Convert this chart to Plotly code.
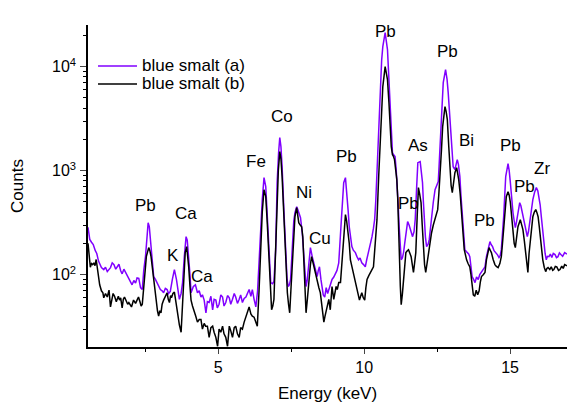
import math
import plotly.graph_objects as go

# ---------------- data ----------------
energy_a = [0.54, 0.60, 0.66, 0.72, 0.79, 0.84, 0.90, 1.00, 1.08, 1.14, 1.20, 1.25, 1.31, 1.37, 1.43, 1.49,
            1.54, 1.60, 1.66, 1.71, 1.77, 1.83, 1.89, 1.94, 2.00, 2.05, 2.11, 2.17, 2.22, 2.28, 2.34, 2.40,
            2.45, 2.51, 2.57, 2.60, 2.64, 2.68, 2.74, 2.79, 2.85, 2.91, 2.97, 3.02, 3.08, 3.13, 3.19, 3.25,
            3.30, 3.36, 3.43, 3.50, 3.57, 3.62, 3.67, 3.73, 3.78, 3.84, 3.90, 3.94, 3.99, 4.04, 4.07, 4.11,
            4.15, 4.22, 4.26, 4.29, 4.35, 4.41, 4.46, 4.52, 4.58, 4.63, 4.69, 4.75, 4.81, 4.86, 4.92, 4.97,
            5.03, 5.09, 5.15, 5.20, 5.26, 5.32, 5.38, 5.43, 5.49, 5.55, 5.60, 5.66, 5.72, 5.77, 5.83, 5.89,
            5.95, 6.00, 6.06, 6.12, 6.17, 6.23, 6.29, 6.35, 6.40, 6.46, 6.51, 6.57, 6.63, 6.68, 6.74, 6.80,
            6.86, 6.91, 6.97, 7.02, 7.07, 7.11, 7.15, 7.19, 7.25, 7.31, 7.36, 7.40, 7.44, 7.48, 7.54, 7.59,
            7.63, 7.69, 7.73, 7.76, 7.82, 7.88, 7.94, 8.01, 8.05, 8.08, 8.12, 8.16, 8.22, 8.28, 8.33, 8.39,
            8.43, 8.47, 8.52, 8.56, 8.60, 8.65, 8.70, 8.75, 8.79, 8.85, 8.90, 8.96, 9.02, 9.07, 9.13, 9.18,
            9.22, 9.27, 9.30, 9.36, 9.41, 9.45, 9.49, 9.53, 9.58, 9.63, 9.70, 9.75, 9.81, 9.86, 9.92, 9.98,
            10.04, 10.09, 10.15, 10.21, 10.27, 10.32, 10.36, 10.40, 10.44, 10.50, 10.55, 10.60, 10.64, 10.72,
            10.80, 10.85, 10.89, 10.93, 10.97, 11.01, 11.06, 11.10, 11.14, 11.17, 11.20, 11.24, 11.27, 11.31,
            11.35, 11.39, 11.43, 11.49, 11.54, 11.58, 11.62, 11.66, 11.71, 11.75, 11.80, 11.84, 11.92, 11.96,
            12.00, 12.03, 12.06, 12.10, 12.14, 12.19, 12.23, 12.27, 12.31, 12.37, 12.43, 12.49, 12.54, 12.58,
            12.62, 12.67, 12.71, 12.79, 12.84, 12.88, 12.93, 12.98, 13.02, 13.05, 13.11, 13.15, 13.19, 13.23,
            13.28, 13.32, 13.36, 13.40, 13.45, 13.50, 13.54, 13.58, 13.62, 13.66, 13.70, 13.75, 13.80, 13.85,
            13.91, 13.96, 14.02, 14.08, 14.14, 14.19, 14.25, 14.31, 14.35, 14.40, 14.45, 14.51, 14.57, 14.62,
            14.66, 14.70, 14.74, 14.78, 14.82, 14.85, 14.93, 14.97, 15.01, 15.05, 15.10, 15.14, 15.18, 15.21,
            15.25, 15.29, 15.33, 15.37, 15.42, 15.46, 15.50, 15.55, 15.59, 15.63, 15.67, 15.72, 15.78, 15.84,
            15.90, 15.95, 15.99, 16.03, 16.07, 16.11, 16.15, 16.20, 16.24, 16.28, 16.33, 16.38, 16.43, 16.48,
            16.54, 16.59, 16.64, 16.69, 16.74, 16.80, 16.87, 16.95]
counts_a = [285, 218, 205, 195, 170, 160, 135, 117, 112, 118, 107, 112, 117, 130, 125, 113,
            120, 126, 109, 102, 113, 105, 97, 93, 85, 80, 88, 83, 93, 92, 75, 72,
            110, 150, 245, 316, 290, 217, 140, 96, 90, 84, 78, 72, 70, 67, 74, 72,
            66, 69, 90, 112, 90, 70, 58, 66, 84, 150, 232, 215, 149, 95, 67, 72,
            77, 80, 72, 67, 70, 61, 64, 57, 43, 55, 54, 62, 46, 58, 57, 48,
            52, 64, 61, 50, 54, 63, 60, 52, 58, 66, 61, 53, 58, 64, 54, 59,
            61, 66, 72, 62, 72, 58, 49, 70, 119, 280, 526, 857, 702, 361, 139, 84,
            82, 86, 174, 767, 1500, 2075, 1700, 1092, 422, 149, 90, 77, 80, 90, 217, 330,
            394, 451, 420, 394, 353, 253, 139, 77, 88, 105, 150, 182, 150, 130, 110, 96,
            110, 119, 90, 72, 64, 61, 75, 66, 72, 80, 90, 95, 105, 110, 130, 200,
            338, 560, 767, 857, 614, 420, 289, 230, 186, 172, 163, 150, 139, 145, 130, 125,
            119, 140, 163, 190, 232, 280, 338, 520, 1024, 2800, 6430, 11500, 15560, 21230,
            14560, 8000, 4510, 2400, 1490, 1420, 1364, 1000, 702, 450, 289, 180, 139, 145,
            163, 200, 253, 324, 300, 271, 250, 232, 260, 338, 700, 1194, 1222, 1000,
            767, 500, 316, 230, 186, 195, 217, 280, 361, 500, 656, 740, 784, 1300,
            2317, 4300, 7020, 9350, 7600, 5620, 3300, 1858, 1300, 1092, 1024, 1150, 1277, 1150,
            875, 560, 361, 240, 174, 167, 163, 158, 149, 120, 96, 90, 84, 95,
            90, 100, 107, 112, 119, 149, 180, 208, 195, 186, 170, 163, 155, 146,
            152, 174, 240, 361, 600, 875, 1167, 1000, 767, 550, 394, 330, 283, 310,
            361, 430, 492, 460, 394, 330, 289, 255, 232, 260, 316, 400, 526, 620,
            687, 640, 562, 470, 361, 270, 203, 160, 139, 150, 149, 158, 146, 160,
            156, 146, 149, 162, 156, 150, 163, 158]

energy_b = [0.54, 0.58, 0.62, 0.66, 0.70, 0.74, 0.78, 0.82, 0.86, 0.90, 0.94, 1.00, 1.05, 1.08, 1.14, 1.20,
            1.26, 1.31, 1.36, 1.40, 1.45, 1.51, 1.54, 1.58, 1.62, 1.66, 1.71, 1.75, 1.79, 1.86, 1.90, 1.94,
            1.99, 2.03, 2.10, 2.17, 2.22, 2.27, 2.32, 2.36, 2.40, 2.45, 2.50, 2.54, 2.62, 2.66, 2.70, 2.75,
            2.79, 2.83, 2.87, 2.92, 2.96, 3.00, 3.04, 3.08, 3.13, 3.19, 3.25, 3.29, 3.33, 3.37, 3.40, 3.45,
            3.50, 3.55, 3.61, 3.67, 3.73, 3.76, 3.78, 3.83, 3.87, 3.92, 3.95, 3.99, 4.03, 4.07, 4.12, 4.18,
            4.23, 4.29, 4.35, 4.41, 4.46, 4.52, 4.57, 4.63, 4.69, 4.75, 4.81, 4.86, 4.92, 4.98, 5.03, 5.09,
            5.15, 5.20, 5.26, 5.32, 5.38, 5.43, 5.49, 5.55, 5.60, 5.66, 5.72, 5.77, 5.83, 5.89, 5.95, 6.00,
            6.06, 6.12, 6.17, 6.23, 6.29, 6.34, 6.40, 6.46, 6.51, 6.57, 6.63, 6.68, 6.72, 6.78, 6.83, 6.87,
            6.91, 6.96, 7.00, 7.06, 7.11, 7.15, 7.19, 7.24, 7.29, 7.33, 7.37, 7.41, 7.45, 7.49, 7.54, 7.59,
            7.63, 7.69, 7.72, 7.76, 7.81, 7.86, 7.90, 7.94, 7.98, 8.01, 8.06, 8.11, 8.16, 8.20, 8.25, 8.31,
            8.35, 8.39, 8.45, 8.50, 8.56, 8.62, 8.66, 8.70, 8.74, 8.79, 8.84, 8.90, 8.96, 9.00, 9.04, 9.08,
            9.13, 9.19, 9.23, 9.27, 9.31, 9.36, 9.40, 9.44, 9.49, 9.53, 9.58, 9.64, 9.70, 9.75, 9.80, 9.84,
            9.88, 9.92, 9.97, 10.02, 10.06, 10.10, 10.16, 10.21, 10.27, 10.32, 10.38, 10.44, 10.50, 10.55,
            10.60, 10.64, 10.72, 10.80, 10.85, 10.89, 10.93, 10.97, 11.00, 11.04, 11.08, 11.12, 11.15, 11.18,
            11.21, 11.24, 11.27, 11.31, 11.35, 11.39, 11.43, 11.48, 11.52, 11.57, 11.61, 11.65, 11.69, 11.73,
            11.77, 11.82, 11.86, 11.90, 11.95, 11.99, 12.03, 12.07, 12.11, 12.15, 12.20, 12.25, 12.31, 12.37,
            12.43, 12.47, 12.52, 12.56, 12.60, 12.65, 12.69, 12.77, 12.81, 12.85, 12.90, 12.94, 12.98, 13.02,
            13.06, 13.11, 13.17, 13.21, 13.24, 13.29, 13.34, 13.38, 13.43, 13.47, 13.51, 13.56, 13.62, 13.66,
            13.70, 13.74, 13.79, 13.84, 13.89, 13.94, 13.98, 14.02, 14.08, 14.14, 14.19, 14.24, 14.28, 14.32,
            14.36, 14.42, 14.48, 14.53, 14.59, 14.65, 14.70, 14.74, 14.78, 14.83, 14.87, 14.93, 14.97, 15.01,
            15.06, 15.10, 15.14, 15.18, 15.22, 15.27, 15.35, 15.40, 15.44, 15.49, 15.54, 15.58, 15.61, 15.65,
            15.69, 15.74, 15.78, 15.83, 15.88, 15.92, 15.96, 16.00, 16.03, 16.08, 16.12, 16.17, 16.22, 16.26,
            16.30, 16.36, 16.41, 16.46, 16.50, 16.55, 16.60, 16.66, 16.71, 16.77, 16.82, 16.87, 16.95]
counts_b = [200, 150, 118, 128, 125, 130, 122, 140, 118, 95, 80, 70, 67, 60, 66, 61,
            71, 49, 56, 66, 62, 55, 58, 62, 57, 60, 48, 58, 61, 56, 52, 54,
            50, 49, 57, 53, 57, 61, 55, 50, 52, 77, 120, 150, 182, 170, 149, 110,
            90, 70, 57, 45, 40, 45, 43, 52, 57, 62, 67, 58, 54, 63, 60, 66,
            68, 55, 40, 33, 28, 40, 57, 110, 163, 186, 160, 119, 80, 57, 50, 43,
            40, 35, 37, 37, 30, 34, 32, 32, 25, 31, 32, 28, 25, 20.5, 30, 28,
            32, 27, 25, 20.5, 32, 29, 25, 31, 32, 27, 25, 31, 30, 35, 40, 44,
            49, 42, 40, 39, 34, 32, 70, 174, 400, 656, 562, 320, 174, 80, 46, 50,
            58, 150, 361, 1000, 1524, 1300, 875, 400, 217, 120, 67, 52, 43, 70, 119, 230,
            361, 441, 390, 316, 300, 289, 230, 139, 75, 43, 60, 90, 125, 149, 130, 105,
            95, 84, 75, 67, 50, 35, 40, 46, 52, 58, 46, 77, 58, 70, 77, 72,
            84, 84, 120, 163, 260, 378, 330, 271, 200, 139, 120, 105, 90, 77, 65, 57,
            62, 67, 60, 57, 75, 90, 98, 105, 112, 119, 200, 338, 900, 2123,
            4200, 6430, 10000, 7500, 4500, 2477, 1700, 1425, 1380, 1277, 1050, 819, 550, 338,
            150, 77, 51.5, 65, 89.5, 130, 163, 170, 174, 160, 149, 125, 105, 130,
            163, 380, 687, 600, 492, 300, 174, 125, 105, 125, 149, 200, 253, 300,
            338, 380, 422, 600, 875, 1600, 2650, 4120, 3700, 3090, 1700, 957, 720, 614,
            780, 957, 1069, 950, 819, 600, 422, 270, 174, 150, 139, 128, 119, 100,
            80, 64, 62, 71, 64, 70, 85, 96, 100, 105, 139, 165, 182, 172,
            163, 140, 125, 120, 117, 128, 149, 200, 289, 430, 562, 628, 580, 492,
            330, 232, 200, 182, 230, 289, 338, 300, 271, 210, 163, 125, 105, 160,
            217, 290, 361, 400, 422, 395, 361, 290, 232, 175, 139, 118, 107, 115,
            117, 112, 119, 110, 112, 120, 119, 110, 112, 121, 115, 125, 122]

series_names = ["blue smalt (a)", "blue smalt (b)"]
series_colors = ["#8000FF", "#000000"]

peak_labels = ["Pb", "K", "Ca", "Ca", "Fe", "Co", "Ni", "Cu", "Pb", "As", "Pb", "Pb", "Bi", "Pb", "Pb", "Pb", "Zr"]
peak_label_x = [2.51, 3.46, 3.91, 4.45, 6.30, 7.18, 7.94, 8.48, 9.40, 11.83, 11.52, 12.85, 13.50, 14.11, 15.00, 15.51, 16.09]
peak_label_y = [460, 152, 386, 95.7, 1222, 3300, 614, 222, 1364, 1738, 482, 13930, 1941, 330, 1738, 702, 1045]
top_label = "Pb"
top_label_x = 10.73

y_tick_vals = [100, 1000, 10000]
y_tick_text = ["10<sup>2</sup>", "10<sup>3</sup>", "10<sup>4</sup>"]
x_tick_vals = [5, 10, 15]

FONT = "Liberation Sans, Arial, sans-serif"
TXT = 17

fig = go.Figure()
fig.add_trace(go.Scatter(x=energy_a, y=counts_a, mode="lines", name=series_names[0], showlegend=False,
                         line=dict(color=series_colors[0], width=1.5)))
fig.add_trace(go.Scatter(x=energy_b, y=counts_b, mode="lines", name=series_names[1], showlegend=False,
                         line=dict(color=series_colors[1], width=1.5)))

annotations = []
for t, x, y in zip(peak_labels, peak_label_x, peak_label_y):
    annotations.append(dict(x=x, y=math.log10(y), xref="x", yref="y", text=t,
                            showarrow=False, font=dict(family=FONT, size=TXT, color="black")))
annotations.append(dict(x=top_label_x, y=1.016, xref="x", yref="paper", text=top_label,
                        showarrow=False, font=dict(family=FONT, size=TXT, color="black")))

# legend drawn as sample lines + labels in the upper-left of the plot
shapes = []
legend_rows_y = [0.8727, 0.8168]
for name, color, ly in zip(series_names, series_colors, legend_rows_y):
    shapes.append(dict(type="line", xref="paper", yref="paper", x0=0.0209, x1=0.1023, y0=ly, y1=ly,
                       line=dict(color=color, width=1.5)))
    annotations.append(dict(x=0.108, y=ly, xref="paper", yref="paper", text=name, showarrow=False,
                            xanchor="left", yanchor="middle",
                            font=dict(family=FONT, size=TXT, color="black")))

minor_y = [m * 10 ** e for e in range(1, 5) for m in range(2, 10) if 20 <= m * 10 ** e <= 25000]

fig.update_layout(
    width=568, height=403,
    margin=dict(l=88, r=1, t=25, b=56),
    paper_bgcolor="white", plot_bgcolor="white",
    font=dict(family=FONT, size=16, color="black"),
    showlegend=False,
    annotations=annotations,
    shapes=shapes,
    xaxis=dict(range=[0.54, 16.95], tickvals=x_tick_vals, ticks="outside", ticklen=5, tickwidth=1,
               showline=True, linecolor="black", linewidth=1.5, mirror=False, showgrid=False, zeroline=False,
               minor=dict(tickvals=[2.5, 7.5, 12.5], ticks="outside", ticklen=3, tickcolor="black"),
               title=dict(text="Energy (keV)", font=dict(family=FONT, size=TXT), standoff=12),
               tickfont=dict(family=FONT, size=16), automargin=False),
    yaxis=dict(type="log", range=[1.305, 4.40], tickvals=y_tick_vals, ticktext=y_tick_text,
               ticks="outside", ticklen=6, tickwidth=1, ticklabelstandoff=1,
               showline=True, linecolor="black", linewidth=1.5, mirror=False, showgrid=False, zeroline=False,
               minor=dict(tickvals=minor_y, ticks="outside", ticklen=3, tickcolor="black"),
               title=dict(text="Counts", font=dict(family=FONT, size=TXT), standoff=24),
               tickfont=dict(family=FONT, size=16), automargin=False),
)

# remove the browser's default 8px page margin so the 568x403 figure fills the window exactly
fig.write_html("out.html", config={"displayModeBar": False},
               post_script="document.body.style.margin='0';document.body.style.overflow='hidden';")
